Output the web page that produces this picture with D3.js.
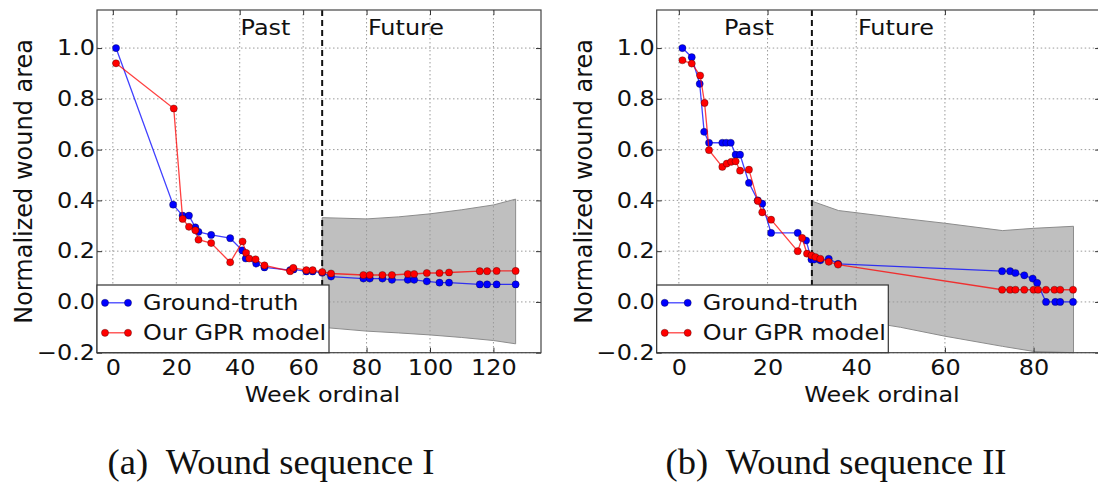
<!DOCTYPE html>
<html><head><meta charset="utf-8">
<script src="https://cdn.jsdelivr.net/npm/d3@7/dist/d3.min.js"></script>
<style>body{margin:0;background:#fff}svg{display:block}</style>
</head><body><svg id="chart" width="1098" height="482"></svg>
<script>
// ---------- data ----------
const yTicks = [-0.2, 0.0, 0.2, 0.4, 0.6, 0.8, 1.0];
const xTicksA = [0, 20, 40, 60, 80, 100, 120];
const xTicksB = [0, 20, 40, 60, 80];

const splitA = 66;
const gtWeeksA = [1,19,22,24,26,27,31,37,40.8,41.9,45.2,47.8,55.9,57,61,63,66,68.8,79,81,85,88,93,95,99,103,106,115.7,118,121,127];
const gtValsA  = [1.0,0.383,0.34,0.34,0.294,0.276,0.264,0.251,0.203,0.171,0.151,0.136,0.125,0.128,0.12,0.12,0.115,0.1,0.092,0.092,0.092,0.087,0.087,0.087,0.081,0.076,0.076,0.069,0.069,0.069,0.069];
const gprWeeksA = [1,19.2,22,24,26,27,31,37,40.9,42,43,45,47.8,55.9,56.9,61,63,66,68.8,79,81,85,88,93,95,99,103,106,115.7,118,121,127];
const gprValsA  = [0.94,0.762,0.327,0.296,0.282,0.245,0.232,0.156,0.238,0.193,0.171,0.168,0.144,0.121,0.134,0.125,0.125,0.118,0.112,0.106,0.106,0.106,0.106,0.11,0.11,0.114,0.114,0.116,0.121,0.121,0.122,0.122];
const bandWeeksA = [66,80,90,100,110,120,127];
const bandUpperA = [0.332,0.327,0.335,0.347,0.363,0.382,0.405];
const bandLowerA = [-0.10,-0.115,-0.122,-0.13,-0.14,-0.152,-0.165];

const splitB = 30;
const gtWeeksB = [0.8,2.9,4.7,5.7,6.8,9.8,10.7,11.7,12.8,13.8,15.8,17.8,18.8,20.8,26.8,28.7,29.9,30.5,31.9,33.8,35.9,72.9,74.7,75.9,77.9,79.8,80.8,82.8,84.9,86,88.9];
const gtValsB  = [1.0,0.964,0.859,0.67,0.627,0.627,0.627,0.627,0.58,0.58,0.469,0.40,0.387,0.272,0.272,0.242,0.167,0.167,0.164,0.17,0.15,0.121,0.121,0.114,0.105,0.092,0.075,0,0,0,0];
const gprWeeksB = [0.8,2.9,4.8,5.8,6.8,9.8,10.8,11.8,12.8,13.8,15.8,17.8,18.8,20.8,26.8,27.8,28.9,29.9,30.8,31.9,33.8,35.9,72.9,74.7,75.9,77.9,80,81,82.8,84.7,86,88.9];
const gprValsB  = [0.952,0.939,0.892,0.784,0.598,0.532,0.545,0.552,0.554,0.517,0.521,0.398,0.353,0.324,0.2,0.252,0.19,0.183,0.177,0.17,0.158,0.147,0.048,0.048,0.048,0.048,0.048,0.048,0.048,0.048,0.048,0.048];
const bandWeeksB = [30,36,50,60,73,80,89];
const bandUpperB = [0.397,0.36,0.33,0.31,0.281,0.29,0.298];
const bandLowerB = [-0.03,-0.06,-0.1,-0.135,-0.175,-0.195,-0.2];

const legendLabels = ["Ground-truth", "Our GPR model"];
const captions = ["(a)  Wound sequence I", "(b)  Wound sequence II"];
const xLabel = "Week ordinal";
const yLabel = "Normalized wound area";
const phaseLabels = ["Past", "Future"];

// ---------- drawing ----------
const svg = d3.select("#chart");
svg.append("rect").attr("width",1098).attr("height",482).attr("fill","#fff");
const SX = 1.14;
const FONT = "DejaVu Sans";

function stretchText(sel, sx){
  const s = sx || SX;
  sel.each(function(){
    const t = d3.select(this);
    const x = +t.attr("x")||0, y = +t.attr("y")||0;
    t.attr("x",0).attr("y",0).attr("transform",`translate(${x},${y}) scale(${s},1)`);
  });
}

const panels = [
  {xDom:[-5,135], xRange:[97,541], xTicks:xTicksA, split:splitA,
   gtW:gtWeeksA, gtV:gtValsA, gpW:gprWeeksA, gpV:gprValsA,
   bW:bandWeeksA, bU:bandUpperA, bL:bandLowerA,
   pastX:265.5, futX:406, ylabX:31.5, xlabX:322.5, legX:97, legW:232, cap:captions[0], capX:271},
  {xDom:[-5,95], xRange:[656.7,1100.1], xTicks:xTicksB, split:splitB,
   gtW:gtWeeksB, gtV:gtValsB, gpW:gprWeeksB, gpV:gprValsB,
   bW:bandWeeksB, bU:bandUpperB, bL:bandLowerB,
   pastX:749, futX:896, ylabX:591.5, xlabX:882, legX:656.7, legW:231.6, cap:captions[1], capX:836}
];

const yRange = [352.7, 10];
panels.forEach(p => {
  const x = d3.scaleLinear().domain(p.xDom).range(p.xRange);
  const y = d3.scaleLinear().domain([-0.2,1.15]).range(yRange);
  const g = svg.append("g");
  const x0 = p.xRange[0], x1 = p.xRange[1], yb = yRange[0], yt = yRange[1];

  // band
  const bandData = p.bW.map((w,i)=>({w, u:p.bU[i], l:p.bL[i]}));
  g.append("path").datum(bandData)
    .attr("d", d3.area().x(d=>x(d.w)).y0(d=>y(d.l)).y1(d=>y(d.u)))
    .attr("fill","#bfbfbf").attr("stroke","#8c8c8c").attr("stroke-width",1);

  // grid
  const grid = g.append("g").attr("stroke","#9a9a9a").attr("stroke-width",1).attr("stroke-dasharray","1.5,2.5");
  p.xTicks.forEach(t => grid.append("line").attr("x1",x(t)).attr("x2",x(t)).attr("y1",yt).attr("y2",yb));
  yTicks.forEach(t => grid.append("line").attr("x1",x0).attr("x2",x1).attr("y1",y(t)).attr("y2",y(t)));

  // split line
  g.append("line").attr("x1",x(p.split)).attr("x2",x(p.split)).attr("y1",yt).attr("y2",yb)
    .attr("stroke","#111").attr("stroke-width",2).attr("stroke-dasharray","6,4");

  // series
  const series = [
    {w:p.gtW, v:p.gtV, c:"#0000ff"},
    {w:p.gpW, v:p.gpV, c:"#ff0000"}
  ];
  series.forEach(s => {
    const pts = s.w.map((w,i)=>[w, s.v[i]]);
    g.append("path").datum(pts)
      .attr("d", d3.line().x(d=>x(d[0])).y(d=>y(d[1])))
      .attr("fill","none").attr("stroke",s.c).attr("stroke-opacity",0.75).attr("stroke-width",1.3);
    g.selectAll(null).data(pts).enter().append("circle")
      .attr("cx",d=>x(d[0])).attr("cy",d=>y(d[1])).attr("r",3.6)
      .attr("fill",s.c).attr("stroke","#000").attr("stroke-width",0.5).attr("stroke-opacity",0.6);
  });

  // axes
  const ax = g.append("g").attr("transform",`translate(0,${yb})`)
    .call(d3.axisBottom(x).tickValues(p.xTicks).tickSizeInner(-5).tickSizeOuter(0).tickPadding(7).tickFormat(d3.format("d")));
  const ay = g.append("g").attr("transform",`translate(${x0},0)`)
    .call(d3.axisLeft(y).tickValues(yTicks).tickSizeInner(-5).tickSizeOuter(0).tickPadding(2).tickFormat(d3.format(".1f")));
  g.append("g").attr("transform",`translate(0,${yt})`)
    .call(d3.axisTop(x).tickValues(p.xTicks).tickSizeInner(-5).tickSizeOuter(0).tickFormat(""));
  g.append("g").attr("transform",`translate(${x1},0)`)
    .call(d3.axisRight(y).tickValues(yTicks).tickSizeInner(-5).tickSizeOuter(0).tickFormat(""));
  g.selectAll(".domain").remove();
  g.selectAll(".tick line").attr("stroke","#333");
  [ax, ay].forEach(a => {
    a.selectAll("text").attr("font-family",FONT).attr("font-size",21).attr("fill","#111");
    stretchText(a.selectAll("text"));
  });

  // frame
  g.append("rect").attr("x",x0).attr("y",yt).attr("width",x1-x0).attr("height",yb-yt)
    .attr("fill","none").attr("stroke","#444").attr("stroke-width",1.2);

  // phase labels
  const pl = g.append("g").attr("font-family",FONT).attr("font-size",21).attr("fill","#111").attr("text-anchor","middle");
  pl.append("text").attr("x",p.pastX).attr("y",35).text(phaseLabels[0]);
  pl.append("text").attr("x",p.futX).attr("y",35).text(phaseLabels[1]);
  stretchText(pl.selectAll("text"));

  // axis labels
  const xl = g.append("text").attr("x",p.xlabX).attr("y",401.5)
    .attr("font-family",FONT).attr("font-size",21).attr("fill","#111").attr("text-anchor","middle").text(xLabel);
  stretchText(xl);
  g.append("text").attr("transform",`translate(${p.ylabX},${(yt+yb)/2}) rotate(-90)`)
    .attr("font-family",FONT).attr("font-size",24).attr("fill","#111").attr("text-anchor","middle").text(yLabel);

  // legend
  const lg = g.append("g");
  lg.append("rect").attr("x",p.legX).attr("y",285).attr("width",p.legW).attr("height",yb-285)
    .attr("fill","#fff").attr("stroke","#333").attr("stroke-width",1.2);
  series.forEach((s,i) => {
    const ly = 302.8 + i*30;
    const lx0 = p.legX + 8, lx1 = p.legX + 31;
    lg.append("line").attr("x1",lx0).attr("x2",lx1).attr("y1",ly).attr("y2",ly)
      .attr("stroke",s.c).attr("stroke-opacity",0.75).attr("stroke-width",1.3);
    [lx0,lx1].forEach(cx => lg.append("circle").attr("cx",cx).attr("cy",ly).attr("r",3.6)
      .attr("fill",s.c).attr("stroke","#000").attr("stroke-width",0.5).attr("stroke-opacity",0.6));
    const t = lg.append("text").attr("x",p.legX+46).attr("y",ly+7.5)
      .attr("font-family",FONT).attr("font-size",21).attr("fill","#111").text(legendLabels[i]);
    stretchText(t);
  });

  // caption
  svg.append("text").attr("x",p.capX).attr("y",474)
    .attr("font-family","Liberation Serif").attr("font-size",36.5).attr("fill","#111")
    .attr("text-anchor","middle").style("white-space","pre").text(p.cap);
});
</script></body></html>
